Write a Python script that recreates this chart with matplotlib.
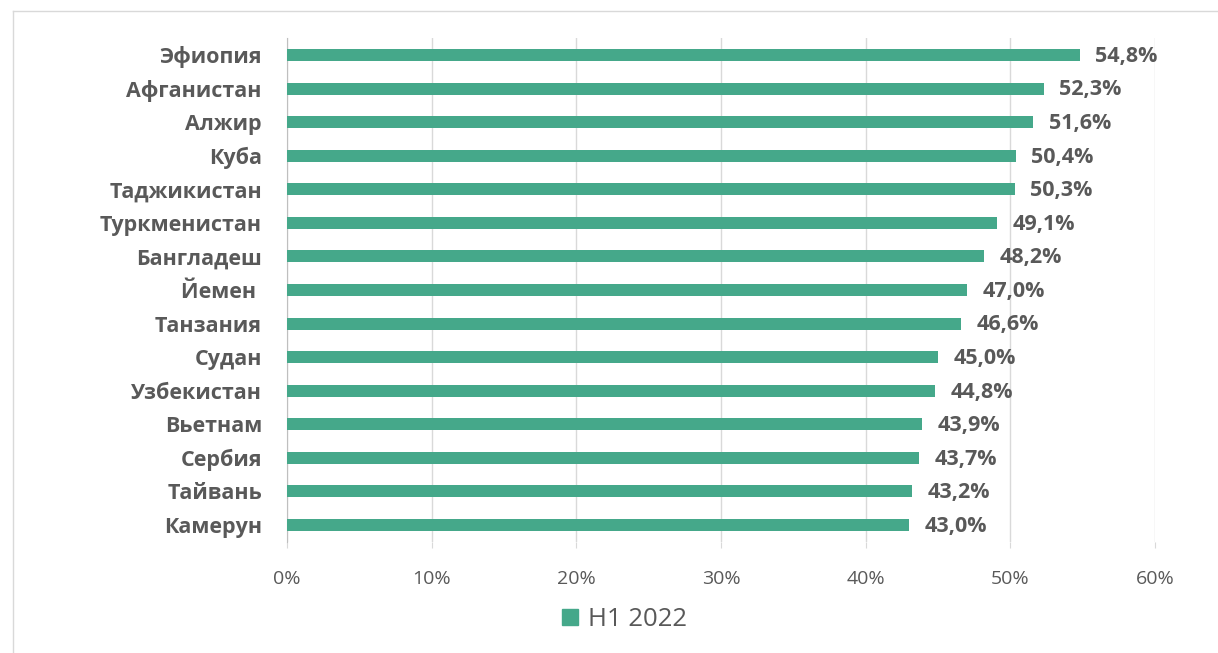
import matplotlib.pyplot as plt
from matplotlib.lines import Line2D
from matplotlib.patches import Patch
import numpy as np

strany = ["Эфиопия", "Афганистан", "Алжир", "Куба", "Таджикистан", "Туркменистан",
          "Бангладеш", "Йемен ", "Танзания", "Судан", "Узбекистан", "Вьетнам",
          "Сербия", "Тайвань", "Камерун"]
znach = [54.8, 52.3, 51.6, 50.4, 50.3, 49.1, 48.2, 47.0, 46.6, 45.0, 44.8, 43.9,
         43.7, 43.2, 43.0]
tiki = [0, 10, 20, 30, 40, 50, 60]
seriya = "H1 2022"

cvet = "#45a88a"
tekst = "#595959"
plt.rcParams['font.family'] = ['Open Sans', 'DejaVu Sans']

fig = plt.figure(figsize=(12.18, 6.53), dpi=100)
ax = fig.add_axes([0.2356, 0.1703, 0.7126, 0.7712])

y = np.arange(len(strany))
ax.barh(y, znach, height=0.36, color=cvet, zorder=3)
ax.set_ylim(len(strany) - 0.5, -0.5)
ax.set_xlim(0, 60)

for i, v in enumerate(znach):
    ax.annotate(f"{v:.1f}%".replace(".", ","), (v, i), xytext=(11, -1),
                textcoords="offset points", va="center", ha="left",
                fontsize=15.5, fontweight="bold", color=tekst)

ax.set_yticks(y)
ax.set_yticklabels(strany, fontsize=15.5, fontweight="bold", color=tekst)
ax.set_xticks(tiki)
ax.set_xticklabels([f"{t}%" for t in tiki], fontsize=14, color=tekst)
ax.tick_params(axis="y", length=0, pad=18)
ax.tick_params(axis="x", length=4, color="#d9d9d9", pad=16)
ax.grid(axis="x", color="#d9d9d9", lw=1, zorder=0)
for s in ["top", "right", "bottom"]:
    ax.spines[s].set_visible(False)
ax.spines["left"].set_color("#bfbfbf")

fig.legend(handles=[Patch(color=cvet, label=seriya)], loc="center",
           bbox_to_anchor=(0.513, 0.051), frameon=False, fontsize=18.5,
           handlelength=0.6, handleheight=0.6, handletextpad=0.4,
           labelcolor=tekst)

# рамка области диаграммы
fig.add_artist(Line2D([13 / 1218, 1], [1 - 11 / 653, 1 - 11 / 653], color="#d9d9d9", lw=1))
fig.add_artist(Line2D([13 / 1218, 13 / 1218], [0, 1 - 11 / 653], color="#d9d9d9", lw=1))

fig.savefig("out.png", dpi=100)
